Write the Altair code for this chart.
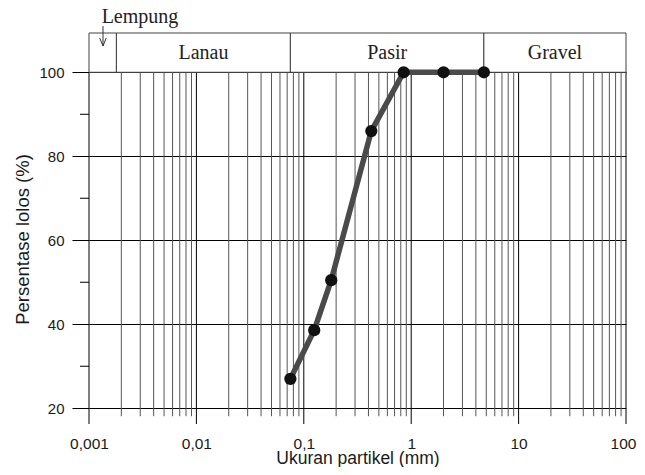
import altair as alt
import pandas as pd

# ---- data ----
size_mm = [0.075, 0.125, 0.18, 0.425, 0.85, 2.0, 4.75]
passing = [27.0, 38.6, 50.5, 86.0, 100.0, 100.0, 100.0]

zone_names = ["", "Lanau", "Pasir", "Gravel"]
zone_start = [0.001, 0.0018, 0.075, 4.75]
zone_end = [0.0018, 0.075, 4.75, 100.0]

decades = [0.001, 0.01, 0.1, 1, 10, 100]
decade_labels = ["0,001", "0,01", "0,1", "1", "10", "100"]
y_major = [20, 40, 60, 80, 100]
y_minor = [30, 50, 70, 90]

# ---- scales / geometry ----
Y_MIN, Y_MAX = 16.25, 109.35
xs = alt.Scale(type="log", domain=[0.001, 100])
ys = alt.Scale(domain=[Y_MIN, Y_MAX], nice=False, zero=False)

minor_x = [m * d for d in decades[:-1] for m in range(2, 10)]

df_pts = pd.DataFrame({"x": size_mm, "y": passing})
df_zone = pd.DataFrame({"name": zone_names, "x": zone_start, "x2": zone_end,
                        "y": [100.0] * 4, "y2": [Y_MAX] * 4})
df_zone["xc"] = (df_zone["x"] * df_zone["x2"]) ** 0.5
df_zone["yl"] = 103.1
df_minor = pd.DataFrame({"x": minor_x, "y": 18.1, "y2": 100.0})
df_dec = pd.DataFrame({"x": decades, "y": Y_MIN, "y2": 100.0})
df_yminor = pd.DataFrame({"x": 0.000824, "x2": 0.001, "y": y_minor})

label_map = "{" + ",".join(f"'{d}':'{l}'" for d, l in zip(decades, decade_labels)) + "}"

SANS = "Liberation Sans"
SERIF = "Liberation Serif"

x_axis = alt.Axis(values=decades, grid=False, ticks=False, domain=False,
                  labelExpr=f"{label_map}[''+datum.value]",
                  labelFont=SANS, labelFontSize=15.5, labelColor="#1a1a1a",
                  labelPadding=12, labelFlush=False, labelOverlap=False,
                  labelOffset={"expr": "datum.value == 100 ? -3 : 0"},
                  title="Ukuran partikel (mm)", titleFont=SANS,
                  titleFontSize=17.5, titleFontWeight="normal",
                  titleColor="#1a1a1a", titleY=39, titleBaseline="alphabetic")
y_axis = alt.Axis(values=y_major, grid=True, gridColor="#000", gridOpacity=1,
                  gridWidth=1, ticks=True, tickSize=17, tickColor="#000",
                  domain=False, labelFont=SANS, labelFontSize=15,
                  labelColor="#1a1a1a", labelPadding=8,
                  title="Persentase lolos (%)", titleFont=SANS,
                  titleFontSize=18.5, titleFontWeight="normal",
                  titleColor="#1a1a1a", titleAngle=270, titleX=-67,
                  titleY=206, titleAlign="center", titleBaseline="middle")


def X(f):
    return alt.X(f, scale=xs, axis=x_axis)


def Y(f):
    return alt.Y(f, scale=ys, axis=y_axis)


minor_rules = alt.Chart(df_minor).mark_rule(color="#555", strokeWidth=1).encode(
    x=X("x:Q"), y=Y("y:Q"), y2="y2:Q")
dec_rules = alt.Chart(df_dec).mark_rule(color="#000", strokeWidth=1).encode(
    x=X("x:Q"), y=Y("y:Q"), y2="y2:Q")
ymin_ticks = alt.Chart(df_yminor).mark_rule(color="#000", strokeWidth=1).encode(
    x=X("x:Q"), x2="x2:Q", y=Y("y:Q"))

zones = alt.Chart(df_zone).mark_rect(fill="white", stroke="#404040", strokeWidth=1).encode(
    x=X("x:Q"), x2="x2:Q", y=Y("y:Q"), y2="y2:Q")
zone_text = alt.Chart(df_zone).mark_text(font=SERIF, fontSize=20, color="#222",
                                         baseline="alphabetic").encode(
    x=X("xc:Q"), y=Y("yl:Q"), text="name:N")

# Lempung annotation with arrow
df_lemp = pd.DataFrame({"x": [0.00134], "y": [111.7], "t": ["Lempung"]})
lemp_text = alt.Chart(df_lemp).mark_text(font=SERIF, fontSize=20, color="#222",
                                         align="left", baseline="alphabetic", dx=-1).encode(
    x=X("x:Q"), y=Y("y:Q"), text="t:N")
df_arrow = pd.DataFrame({
    "x": [0.00135, 0.001258, 0.001446],
    "x2": [0.00135, 0.00135, 0.00135],
    "y": [111.0, 108.15, 108.15],
    "y2": [106.25, 106.25, 106.25]})
arrow = alt.Chart(df_arrow).mark_rule(color="#333", strokeWidth=1).encode(
    x=X("x:Q"), x2="x2:Q", y=Y("y:Q"), y2="y2:Q")

line = alt.Chart(df_pts).mark_line(color="#4a4a4a", strokeWidth=5.5).encode(
    x=X("x:Q"), y=Y("y:Q"))
pts = alt.Chart(df_pts).mark_circle(color="#111", opacity=1, size=150).encode(
    x=X("x:Q"), y=Y("y:Q"))

chart = alt.layer(minor_rules, dec_rules, ymin_ticks, zones, zone_text,
                  lemp_text, arrow, line, pts).properties(
    width=537, height=391,
    autosize=alt.AutoSizeParams(type="none"),
    padding={"left": 81, "top": 25, "right": 11, "bottom": 43},
).configure_view(strokeWidth=0)

chart.save("out.html", embed_options={"renderer": "svg", "actions": False})
